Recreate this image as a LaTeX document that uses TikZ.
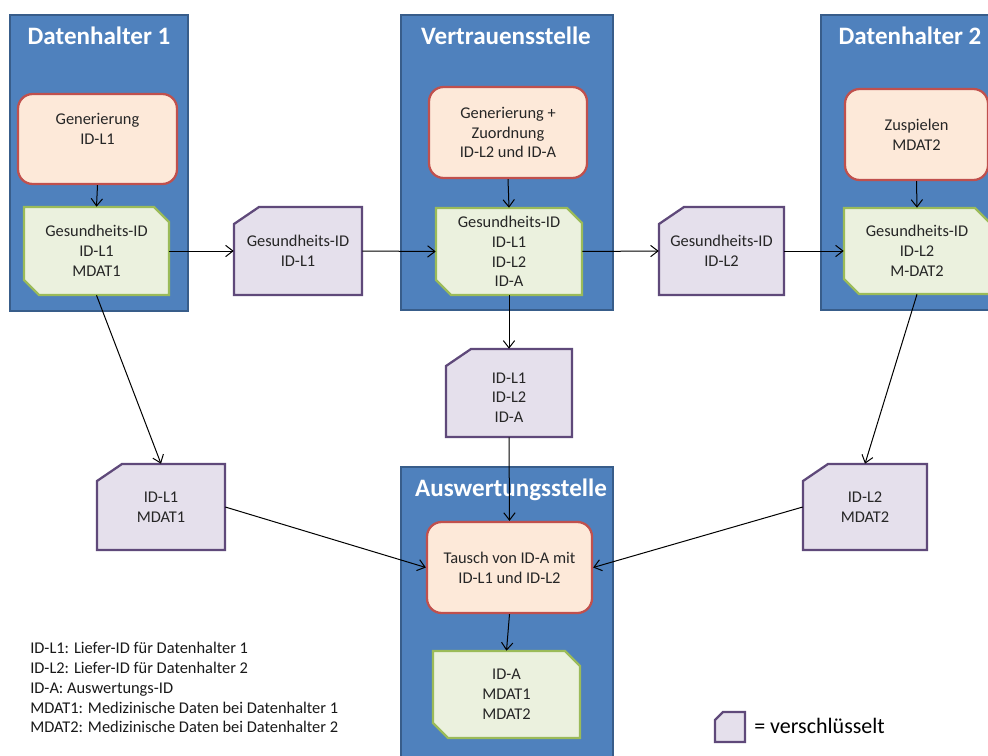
\documentclass[tikz,border=0pt]{standalone}
\usepackage{fontspec}
\setmainfont{Carlito}
\usetikzlibrary{arrows.meta}
\definecolor{bluefill}{HTML}{4F81BD}
\definecolor{blueline}{HTML}{385D8A}
\definecolor{redfill}{HTML}{FDE9D9}
\definecolor{redline}{HTML}{C0504D}
\definecolor{greenfill}{HTML}{EBF1DE}
\definecolor{greenline}{HTML}{9BBB59}
\definecolor{purplefill}{HTML}{E5E0EC}
\definecolor{purpleline}{HTML}{5F497A}
\tikzset{
  bluebox/.style={fill=bluefill, draw=blueline, line width=1.6pt},
  titletext/.style={text=white, font=\fontsize{18.8}{22}\selectfont\bfseries, inner sep=0pt},
  boxtext/.style={align=center, inner sep=0pt, font=\fontsize{12.3}{14.9}\selectfont, text=black!85},
  redshape/.style={boxtext, draw=redline, fill=redfill, line width=1.7pt, rounded corners=11pt},
  greenshape/.style={draw=greenline, fill=greenfill, line width=1.7pt, line join=miter},
  purpleshape/.style={draw=purpleline, fill=purplefill, line width=1.7pt, line join=miter},
  arr/.style={draw=black, line width=0.75pt, -{Straight Barb[length=5.5pt,width=8.5pt]}},
  legendtext/.style={anchor=base west, inner sep=0pt, font=\fontsize{12.3}{14.9}\selectfont, text=black!90}
}
% name, x1, y1, x2, y2, text
\newcommand\greenbox[6]{%
  \draw[greenshape] (#2,#3) -- ({#4-15},#3) -- (#4,{#3+15}) -- (#4,#5) -- ({#2+15},#5) -- (#2,{#5-15}) -- cycle;
  \node[boxtext, minimum width={(#4-#2)*0.75pt}, minimum height={(#5-#3)*0.75pt}] (#1) at ({(#2+#4)/2},{(#3+#5)/2}) {#6};
}
\newcommand\purplebox[6]{%
  \draw[purpleshape] (#2,{#3+17}) -- ({#2+25},#3) -- (#4,#3) -- (#4,#5) -- (#2,#5) -- cycle;
  \node[boxtext, minimum width={(#4-#2)*0.75pt}, minimum height={(#5-#3)*0.75pt}] (#1) at ({(#2+#4)/2},{(#3+#5)/2}) {#6};
}
\newcommand\redbox[6]{%
  \node[redshape, minimum width={(#4-#2)*0.75pt}, minimum height={(#5-#3)*0.75pt}] (#1) at ({(#2+#4)/2},{(#3+#5)/2}) {#6};
}
\begin{document}
\begin{tikzpicture}[x=0.75pt, y=-0.75pt]
\useasboundingbox (0,0) rectangle (988,756);
\clip (0,0) rectangle (988,756);
\fill[white] (0,0) rectangle (988,756);

% containers
\draw[bluebox] (10,15) rectangle (188,311);
\node[titletext] (t1) at (99,36) {Datenhalter 1};
\draw[bluebox] (401,15) rectangle (613,310);
\node[titletext] (t2) at (506,36) {Vertrauensstelle};
\draw[bluebox] (821,15) rectangle (1000,310);
\node[titletext] (t3) at (910,36) {Datenhalter 2};
\draw[bluebox] (401,467) rectangle (613,770);
\node[titletext] (t4) at (511,490) {Auswertungsstelle};

% red process boxes
\redbox{r1}{18}{94}{177}{184}{Generierung\\ID-L1\\\mbox{}}
\redbox{r2}{429}{87}{587}{178}{Generierung +\\Zuordnung\\ID-L2 und ID-A}
\redbox{r3}{845}{89}{988}{180}{Zuspielen\\MDAT2}
\redbox{r4}{427}{522}{592}{613}{Tausch von ID-A mit\\ID-L1 und ID-L2}

% green data boxes
\greenbox{g1}{24}{207}{169}{295}{Gesundheits-ID\\ID-L1\\MDAT1}
\greenbox{g2}{436}{208}{582}{295}{Gesundheits-ID\\ID-L1\\ID-L2\\ID-A}
\greenbox{g3}{844}{208}{990}{294}{Gesundheits-ID\\ID-L2\\M-DAT2}
\greenbox{g4}{433}{651}{580}{738}{ID-A\\MDAT1\\MDAT2}

% purple encrypted boxes
\purplebox{p1}{234}{207}{362}{295}{Gesundheits-ID\\ID-L1}
\purplebox{p2}{659}{207}{784}{295}{Gesundheits-ID\\ID-L2}
\purplebox{p4}{446}{349}{572}{437}{\mbox{}\\ID-L1\\ID-L2\\ID-A}
\purplebox{p3}{97}{464}{225}{550}{ID-L1\\MDAT1}
\purplebox{p5}{803}{464}{927}{550}{ID-L2\\MDAT2}

% connectors
\draw[arr] (r1.south) -- (g1.north);
\draw[arr] (r2.south) -- (g2.north);
\draw[arr] (r3.south) -- (g3.north);
\draw[arr] (g1.east) -- (p1.west);
\draw[arr] (p1.east) -- (g2.west);
\draw[arr] (g2.east) -- (p2.west);
\draw[arr] (p2.east) -- (g3.west);
\draw[arr] (g2.south) -- (p4.north);
\draw[arr] (p4.south) -- (r4.north);
\draw[arr] (g1.south) -- (p3.north);
\draw[arr] (g3.south) -- (p5.north);
\draw[arr] (p3.east) -- (r4.west);
\draw[arr] (p5.west) -- (r4.east);
\draw[arr] (r4.south) -- (g4.north);

% legend
\node[legendtext] (l1) at (30,653) {ID-L1: Liefer-ID für Datenhalter 1};
\node[legendtext] (l2) at (30,673) {ID-L2: Liefer-ID für Datenhalter 2};
\node[legendtext] (l3) at (30,693) {ID-A: Auswertungs-ID};
\node[legendtext] (l4) at (30,713) {MDAT1: Medizinische Daten bei Datenhalter 1};
\node[legendtext] (l5) at (30,732) {MDAT2: Medizinische Daten bei Datenhalter 2};

\draw[purpleshape] (715,720) -- (723,712) -- (745,712) -- (745,742) -- (715,742) -- cycle;
\node[anchor=base west, inner sep=0pt, font=\fontsize{16.5}{19}\selectfont] (lk) at (754,733) {= verschlüsselt};
\end{tikzpicture}
\end{document}
